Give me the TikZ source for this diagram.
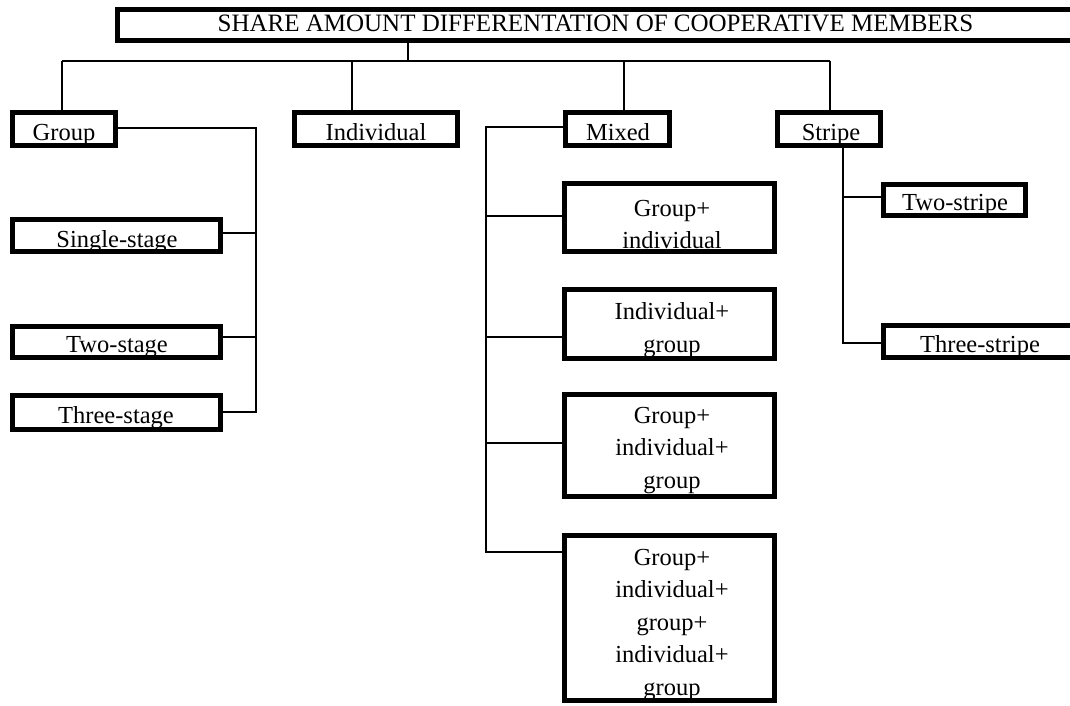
\documentclass[tikz,border=0pt]{standalone}
\usepackage{fontspec}
\setmainfont{Liberation Serif}
\tikzset{
  boxnode/.style={draw=black, line width=5pt, inner sep=0pt, outer sep=0pt, rectangle},
  txt/.style={inner sep=0pt, outer sep=0pt, align=center, anchor=base, font=\fontsize{24.5}{32.5}\selectfont},
  conn/.style={draw=black, line width=1.2pt}
}
\newcommand\mybox[5]{%
  \node[boxnode, minimum width={#4-#2-5}, minimum height={#5-#3-5}] (#1) at ({(#2+#4)/2},{(#3+#5)/2}) {};}
\begin{document}
\begin{tikzpicture}[x=1pt,y=-1pt]
\fill[white] (0,0) rectangle (1070,706);
\useasboundingbox (0,0) rectangle (1070,706);
% boxes
\mybox{title}{115}{7}{1076}{43}
\mybox{group}{10}{110}{118}{148}
\mybox{indiv}{292}{110}{460}{148}
\mybox{mixed}{563}{110}{672}{148}
\mybox{stripe}{775}{110}{883}{148}
\mybox{single}{10}{217}{223}{254}
\mybox{twostage}{10}{324}{223}{360}
\mybox{threestage}{10}{393}{223}{432}
\mybox{gi}{562}{181}{777}{254}
\mybox{ig}{562}{287}{777}{361}
\mybox{gig}{562}{392}{777}{499}
\mybox{gigig}{562}{533}{777}{703}
\mybox{twostripe}{881}{182}{1028}{218}
\mybox{threestripe}{881}{323}{1079}{360}
% texts (anchor base = baseline of the last line)
\node[txt, font=\fontsize{25}{32.5}\selectfont] (ttitle) at (595.5,31.5) {SHARE AMOUNT DIFFERENTATION OF COOPERATIVE MEMBERS};
\node[txt] (tgroup) at (64,140) {Group};
\node[txt] (tindiv) at (376,140) {Individual};
\node[txt] (tmixed) at (618,140) {Mixed};
\node[txt] (tstripe) at (831,140) {Stripe};
\node[txt] (tsingle) at (117,247) {Single-stage};
\node[txt] (ttwostage) at (117,352) {Two-stage};
\node[txt] (tthreestage) at (116,423) {Three-stage};
\node[txt] (tgi) at (672,248.5) {Group+\\individual};
\node[txt] (tig) at (672,352) {Individual+\\group};
\node[txt] (tgig) at (672,488) {Group+\\individual+\\group};
\node[txt] (tgigig) at (672,695) {Group+\\individual+\\group+\\individual+\\group};
\node[txt] (ttwostripe) at (955,210) {Two-stripe};
\node[txt] (tthreestripe) at (980,352) {Three-stripe};
% junction coordinates
\coordinate (tj) at (408,61);
\coordinate (gstem) at (62,61);
\coordinate (istem) at (352,61);
\coordinate (mstem) at (624,61);
\coordinate (sstem) at (830,61);
\coordinate (gbus) at (256,128);
\coordinate (gb1) at (256,233);
\coordinate (gb2) at (256,337);
\coordinate (gb3) at (256,412);
\coordinate (mbus) at (486,127);
\coordinate (mb1) at (486,216);
\coordinate (mb2) at (486,337);
\coordinate (mb3) at (486,443);
\coordinate (mb4) at (486,552);
\coordinate (sb1) at (843,197);
\coordinate (sb2) at (843,343);
% connectors
\draw[conn] (title.south -| tj) -- (tj);
\draw[conn] (gstem) -- (sstem);
\draw[conn] (gstem) -- (gstem |- group.north);
\draw[conn] (istem) -- (istem |- indiv.north);
\draw[conn] (mstem) -- (mstem |- mixed.north);
\draw[conn] (sstem) -- (sstem |- stripe.north);
\draw[conn] (group.east |- gbus) -- (gbus) -- (gb3) -- (gb3 -| threestage.east);
\draw[conn] (gb1) -- (gb1 -| single.east);
\draw[conn] (gb2) -- (gb2 -| twostage.east);
\draw[conn] (mixed.west |- mbus) -- (mbus) -- (mb4) -- (mb4 -| gigig.west);
\draw[conn] (mb1) -- (mb1 -| gi.west);
\draw[conn] (mb2) -- (mb2 -| ig.west);
\draw[conn] (mb3) -- (mb3 -| gig.west);
\draw[conn] (stripe.south -| sb2) -- (sb2) -- (sb2 -| threestripe.west);
\draw[conn] (sb1) -- (sb1 -| twostripe.west);
\end{tikzpicture}
\end{document}
